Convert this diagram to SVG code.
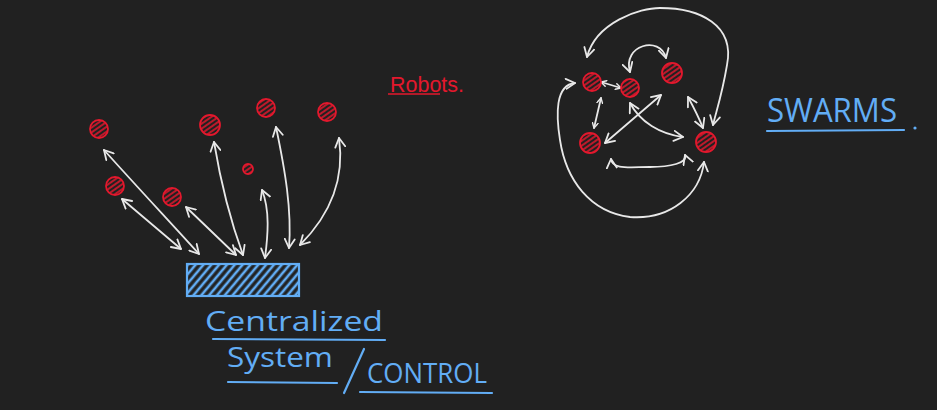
<svg xmlns="http://www.w3.org/2000/svg" width="937" height="410" viewBox="0 0 937 410">
<defs>
<pattern id="hr" patternUnits="userSpaceOnUse" width="4" height="4" patternTransform="rotate(-35)"><rect width="4" height="4" fill="#212121"/><line x1="0" y1="1" x2="4" y2="1" stroke="#e3182d" stroke-width="1.6"/></pattern>
<pattern id="hb" patternUnits="userSpaceOnUse" width="6" height="6" patternTransform="rotate(-50)"><rect width="6" height="6" fill="#212121"/><line x1="0" y1="2" x2="6" y2="2" stroke="#62adf5" stroke-width="2.6"/></pattern>
<marker id="ah" viewBox="0 0 12 12" refX="10" refY="6" markerWidth="12" markerHeight="12" markerUnits="userSpaceOnUse" orient="auto-start-reverse"><path d="M1,1 L10,6 L1,11" fill="none" stroke="#e8e8e8" stroke-width="1.8" stroke-linecap="round" stroke-linejoin="round"/></marker>
<marker id="ahs" viewBox="0 0 12 12" refX="10" refY="6" markerWidth="7" markerHeight="7" markerUnits="userSpaceOnUse" orient="auto-start-reverse"><path d="M1,1 L10,6 L1,11" fill="none" stroke="#e8e8e8" stroke-width="2.4" stroke-linecap="round" stroke-linejoin="round"/></marker>
</defs>
<style>
.bot{fill:url(#hr);stroke:#e3182d;stroke-width:1.8}
.c{fill:none;stroke:#e8e8e8;stroke-width:1.8;stroke-linecap:round;marker-start:url(#ah);marker-end:url(#ah)}
.cs{marker-start:url(#ahs);marker-end:url(#ahs)}
.blue{fill:#62adf5;font-family:"Open Sans","Liberation Sans",sans-serif}
.ul{stroke:#62adf5;stroke-width:2.2;stroke-linecap:round;fill:none}
</style>
<rect width="937" height="410" fill="#212121"/>
<g id="robots-left">
<g id="r1"><circle class="bot" cx="99" cy="129" r="9"/></g>
<g id="r2"><circle class="bot" cx="115" cy="186" r="9"/></g>
<g id="r3"><circle class="bot" cx="172" cy="197" r="9"/></g>
<g id="r4"><circle class="bot" cx="210" cy="125" r="10"/></g>
<g id="r5"><circle class="bot" cx="248" cy="169" r="5"/></g>
<g id="r6"><circle class="bot" cx="266" cy="108" r="9"/></g>
<g id="r7"><circle class="bot" cx="327" cy="112" r="9"/></g>
</g>
<g id="central-system">
<rect x="187" y="264" width="112" height="32" fill="url(#hb)" stroke="#62adf5" stroke-width="2.2"/>
</g>
<g id="connectors">
<path class="c" d="M104,150 C140,190 170,222 199,254"/>
<path class="c" d="M122,199 L181,249"/>
<path class="c" d="M186,207 L236,255"/>
<path class="c" d="M214,142 C222,190 232,225 243,255"/>
<path class="c" d="M262,190 C270,210 268,235 265,258"/>
<path class="c" d="M276,127 C285,170 292,210 289,248"/>
<path class="c" d="M339,138 C345,180 330,215 300,245"/>
<path class="c" d="M587,57 C596,22 640,8 660,8 C700,8 735,25 727,65 C722,95 716,112 713,125"/>
<path class="c" d="M630,72 C622,45 660,35 666,58"/>
<path class="c cs" d="M601,82 L621,88"/>
<path class="c cs" d="M601,98 L594,128"/>
<path class="c" d="M605,143 L661,95"/>
<path class="c" d="M630,103 C640,122 660,134 683,137"/>
<path class="c" d="M688,97 C694,108 699,118 703,128"/>
<path class="c" d="M611,159 C612,170 630,167 650,167 C670,167 688,163 685,155"/>
<path class="c" d="M575,83 C555,85 556,115 560,140 C566,180 590,212 630,217 C670,220 700,195 704,162"/>
</g>
<g id="swarm">
<g id="s1"><circle class="bot" cx="592" cy="82" r="9"/></g>
<g id="s2"><circle class="bot" cx="630" cy="88" r="9"/></g>
<g id="s3"><circle class="bot" cx="672" cy="73" r="10"/></g>
<g id="s4"><circle class="bot" cx="590" cy="143" r="10"/></g>
<g id="s5"><circle class="bot" cx="706" cy="142" r="10"/></g>
</g>
<g id="labels">
<text x="390" y="92" font-family="'Liberation Sans',sans-serif" font-size="22" fill="#e3182d" textLength="74" lengthAdjust="spacingAndGlyphs">Robots.</text>
<line x1="388" y1="94" x2="440" y2="94" stroke="#e3182d" stroke-width="1.5"/>
<text class="blue" x="205" y="331" font-size="27" textLength="178" lengthAdjust="spacingAndGlyphs">Centralized</text>
<line class="ul" x1="213" y1="339" x2="385" y2="340"/>
<text class="blue" x="227" y="367" font-size="27" textLength="106" lengthAdjust="spacingAndGlyphs">System</text>
<line class="ul" x1="228" y1="382" x2="337" y2="383"/>
<line class="ul" x1="344" y1="393" x2="364" y2="349"/>
<text class="blue" x="367" y="383" font-size="28" textLength="120" lengthAdjust="spacingAndGlyphs">CONTROL</text>
<line class="ul" x1="360" y1="392" x2="492" y2="393"/>
<text class="blue" x="767" y="122" font-size="33" textLength="130" lengthAdjust="spacingAndGlyphs">SWARMS</text>
<line class="ul" x1="767" y1="131" x2="904" y2="130"/>
<circle cx="915" cy="128" r="1.6" fill="#62adf5"/>
</g>
</svg>
